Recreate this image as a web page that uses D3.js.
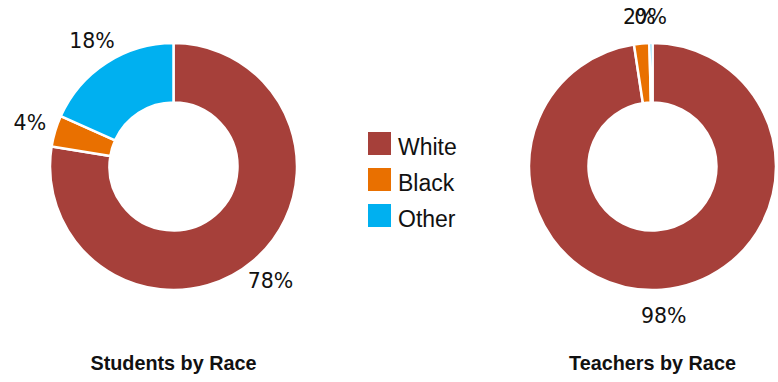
<!DOCTYPE html>
<html>
<head>
<meta charset="utf-8">
<script src="https://cdn.jsdelivr.net/npm/d3@7"></script>
<style>
  html, body { margin: 0; padding: 0; background: #fff; }
  svg { display: block; }
</style>
</head>
<body>
<svg id="chart" width="778" height="382"></svg>
<script>
const categories = ["White", "Black", "Other"];
const studentValues = [77.6, 4.1, 18.3];
const teacherValues = [97.6, 2.0, 0.4];
const chartTitles = ["Students by Race", "Teachers by Race"];
const colors = ["#A6403A", "#E97000", "#00B0F0"];

const svg = d3.select("#chart");
const color = d3.scaleOrdinal().domain(categories).range(colors);

const pie = d3.pie().sort(null).value(d => d.value).startAngle(0).endAngle(2 * Math.PI);
const arc = d3.arc().innerRadius(64).outerRadius(123.5);
const labelArc = d3.arc().innerRadius(150).outerRadius(150);

function drawDonut(cx, cy, values, title) {
  const data = categories.map((c, i) => ({ cat: c, value: values[i] }));
  const total = d3.sum(values);
  const g = svg.append("g").attr("transform", `translate(${cx},${cy})`);
  const arcs = pie(data);
  g.selectAll("path.slice")
    .data(arcs)
    .join("path")
    .attr("class", "slice")
    .attr("d", arc)
    .attr("fill", d => color(d.data.cat))
    .attr("stroke", "#fff")
    .attr("stroke-width", 2.5)
    .attr("stroke-linejoin", "miter");
  g.selectAll("text.pct")
    .data(arcs)
    .join("text")
    .attr("class", "pct")
    .attr("transform", d => `translate(${labelArc.centroid(d)})`)
    .attr("text-anchor", "middle")
    .attr("dominant-baseline", "central")
    .attr("font-family", "DejaVu Sans, sans-serif")
    .attr("font-size", 20.5)
    .attr("fill", "#111")
    .text(d => Math.round(d.data.value / total * 100) + "%");
  svg.append("text")
    .attr("x", cx)
    .attr("y", 370)
    .attr("text-anchor", "middle")
    .attr("font-family", "Liberation Sans, Arial, sans-serif")
    .attr("font-weight", "bold")
    .attr("font-size", 19.8)
    .attr("fill", "#111")
    .text(title);
}

drawDonut(173.5, 166.5, studentValues, chartTitles[0]);
drawDonut(652.5, 166.5, teacherValues, chartTitles[1]);

// Legend
const legend = svg.append("g").attr("transform", "translate(368,132)");
const items = legend.selectAll("g.item")
  .data(categories)
  .join("g")
  .attr("class", "item")
  .attr("transform", (d, i) => `translate(0,${i * 36})`);
items.append("rect")
  .attr("width", 23)
  .attr("height", 23)
  .attr("fill", d => color(d));
items.append("text")
  .attr("x", 30)
  .attr("y", 23)
  .attr("font-family", "Liberation Sans, Arial, sans-serif")
  .attr("font-size", 23)
  .attr("fill", "#111")
  .text(d => d);
</script>
</body>
</html>
